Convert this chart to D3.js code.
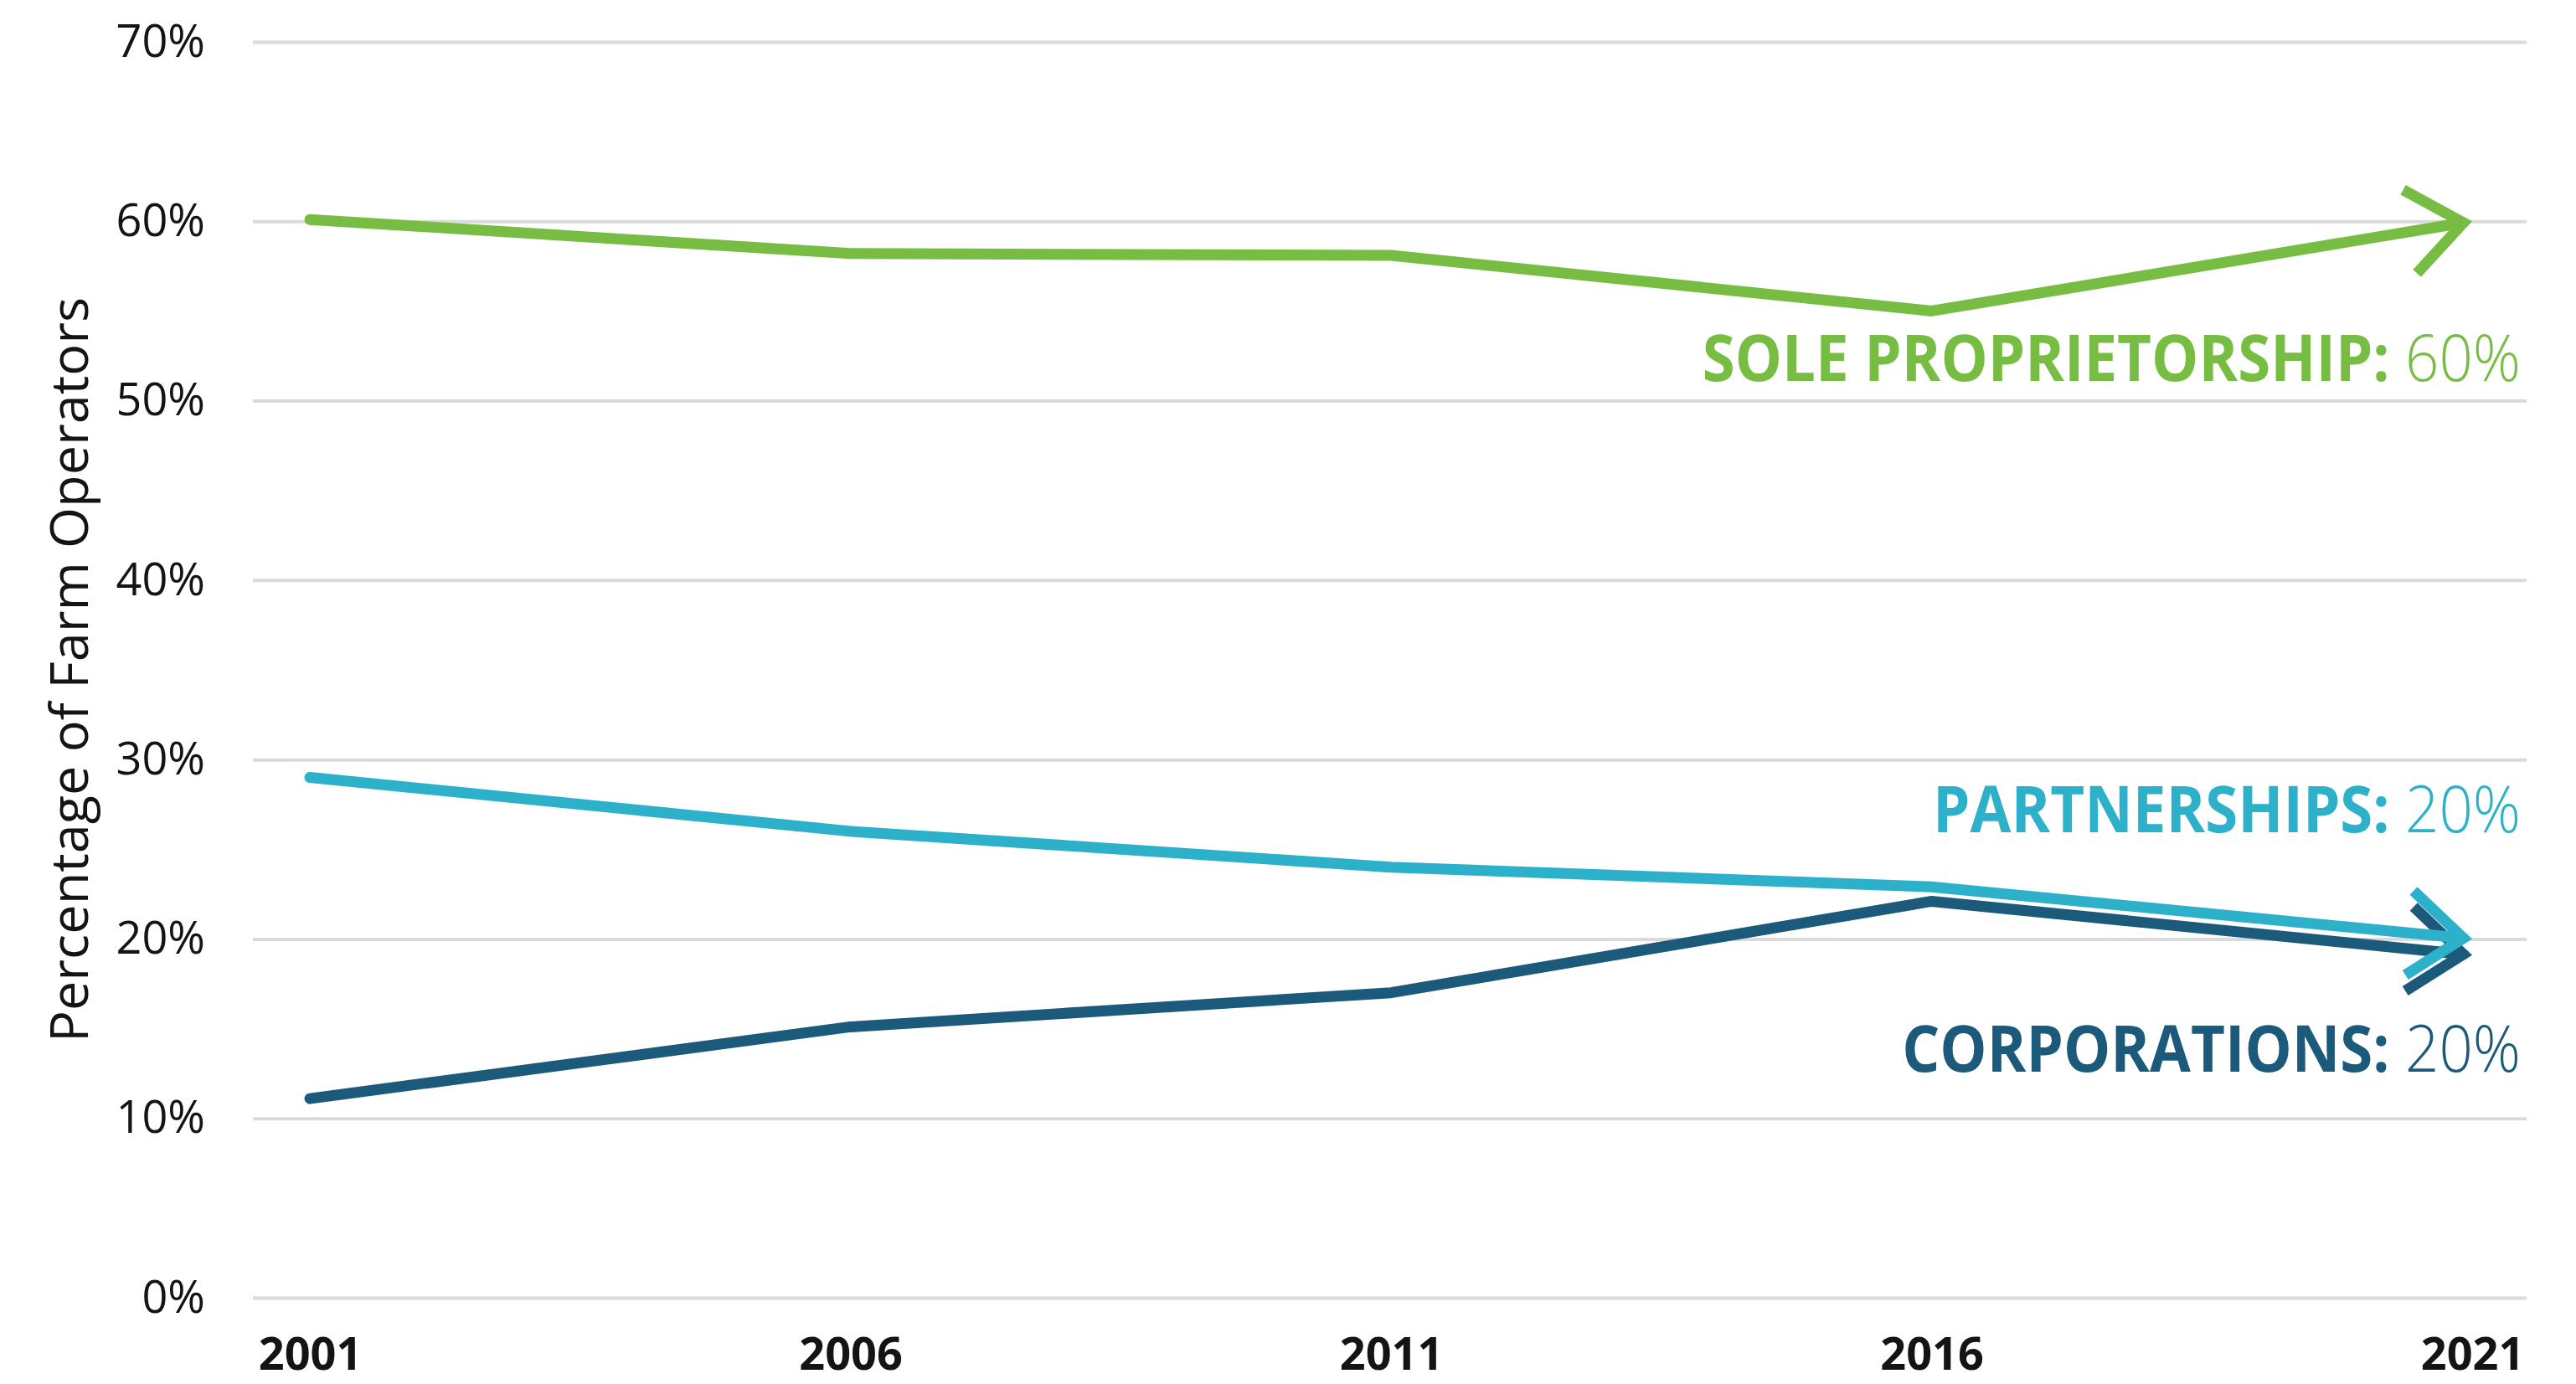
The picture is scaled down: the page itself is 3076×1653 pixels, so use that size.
<!DOCTYPE html>
<html>
<head>
<meta charset="utf-8">
<script src="https://cdn.jsdelivr.net/npm/d3@7"></script>
<style>
  html, body { margin: 0; padding: 0; background: #ffffff; }
  svg { display: block; }
  text { font-family: "Open Sans", "Noto Sans", sans-serif; }
</style>
</head>
<body>
<svg id="chart" width="3076" height="1653"></svg>
<script>
// ---- data ----
const years = [2001, 2006, 2011, 2016, 2021];
const soleProprietorship = [60.1, 58.2, 58.1, 55.0, 60.0];
const partnerships = [29.0, 26.0, 24.0, 22.9, 20.0];
const corporations = [11.1, 15.1, 17.0, 22.1, 19.1];
const yTicks = [0, 10, 20, 30, 40, 50, 60, 70];
const seriesNames = ["CORPORATIONS:", "PARTNERSHIPS:", "SOLE PROPRIETORSHIP:"];
const seriesEndLabels = ["20%", "20%", "60%"];
const yTitle = "Percentage of Farm Operators";

// ---- layout / style ----
const colors = ["#1c5a7b", "#2db0c9", "#77bd43"];
const labelBaselines = [1280, 994, 455];
const labelRight = 3010;
const gridLeft = 302, gridRight = 3017;

const svg = d3.select("#chart");
const x = d3.scaleLinear().domain([2001, 2021]).range([370, 2952]);
const y = d3.scaleLinear().domain([0, 70]).range([1550, 50]);

// y axis with gridlines
const yAxis = d3.axisLeft(y)
  .tickValues(yTicks)
  .tickFormat(d => d + "%")
  .tickSize(-(gridRight - gridLeft))
  .tickPadding(57);
const gy = svg.append("g").attr("transform", `translate(${gridLeft},0)`).call(yAxis);
gy.select(".domain").remove();
gy.selectAll(".tick line").attr("stroke", "#dadada").attr("stroke-width", 4);
gy.selectAll(".tick text")
  .attr("fill", "#141414")
  .style("font-size", "54px")
  .style("font-family", "'Open Sans', sans-serif");

// x axis
const xAxis = d3.axisBottom(x).tickValues(years).tickFormat(d3.format("d")).tickSize(0).tickPadding(48);
const gx = svg.append("g").attr("transform", `translate(0,${y(0)})`).call(xAxis);
gx.select(".domain").remove();
gx.selectAll(".tick text")
  .attr("fill", "#141414")
  .style("font-size", "54px")
  .style("font-weight", "700")
  .style("font-family", "'Open Sans', sans-serif");

// y title
svg.append("text")
  .attr("transform", "translate(105,800) rotate(-90)")
  .attr("text-anchor", "middle")
  .attr("fill", "#141414")
  .style("font-size", "63px")
  .text(yTitle);

// lines
const seriesData = [corporations, partnerships, soleProprietorship];
const line = d3.line().x(d => x(d[0])).y(d => y(d[1]));
const armLen = 82, armAngle = 38 * Math.PI / 180, strokeW = 13;
const miterOffset = (strokeW / 2) / Math.sin(armAngle);

seriesData.forEach((vals, i) => {
  const pts = years.map((yr, j) => [yr, vals[j]]);
  const n = pts.length;
  const ex = x(pts[n - 1][0]), ey = y(pts[n - 1][1]);
  const px = x(pts[n - 2][0]), py = y(pts[n - 2][1]);
  const back = Math.atan2(py - ey, px - ex);
  // pull the chevron back so that its outer miter point lands on the data point
  const tx = ex + miterOffset * Math.cos(back), ty = ey + miterOffset * Math.sin(back);

  const linePts = pts.slice(0, n - 1).map(p => [x(p[0]), y(p[1])]).concat([[tx, ty]]);
  svg.append("path")
    .attr("d", d3.line()(linePts))
    .attr("fill", "none")
    .attr("stroke", colors[i])
    .attr("stroke-width", strokeW)
    .attr("stroke-linecap", "round")
    .attr("stroke-linejoin", "round");

  const a1 = [tx + armLen * Math.cos(back + armAngle), ty + armLen * Math.sin(back + armAngle)];
  const a2 = [tx + armLen * Math.cos(back - armAngle), ty + armLen * Math.sin(back - armAngle)];
  svg.append("path")
    .attr("d", `M${a1[0]},${a1[1]}L${tx},${ty}L${a2[0]},${a2[1]}`)
    .attr("fill", "none")
    .attr("stroke", colors[i])
    .attr("stroke-width", strokeW)
    .attr("stroke-linecap", "butt")
    .attr("stroke-linejoin", "miter")
    .attr("stroke-miterlimit", 10);
});

// end labels
seriesNames.forEach((name, i) => {
  const t = svg.append("text")
    .attr("transform", `translate(${labelRight},${labelBaselines[i]}) scale(0.92,1)`)
    .attr("text-anchor", "end")
    .attr("fill", colors[i])
    .style("font-size", "77px");
  t.append("tspan").style("font-weight", "700").text(name + " ");
  t.append("tspan").style("font-weight", "300").text(seriesEndLabels[i]);
});
</script>
</body>
</html>
